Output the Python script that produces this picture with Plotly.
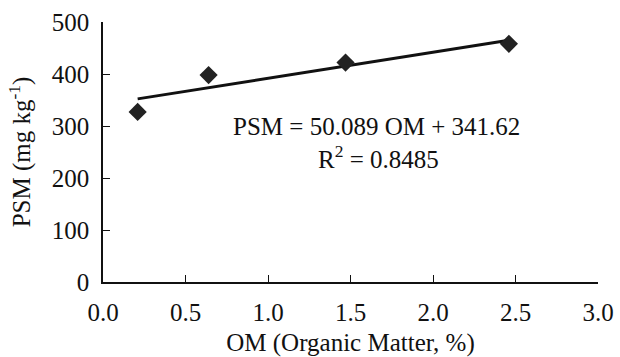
import plotly.graph_objects as go

om = [0.21, 0.64, 1.47, 2.46]
psm = [327, 398, 422, 458]
slope = 50.089
intercept = 341.62
r2 = 0.8485
x_ticks = [0.0, 0.5, 1.0, 1.5, 2.0, 2.5, 3.0]
x_ticklabels = ["0.0", "0.5", "1.0", "1.5", "2.0", "2.5", "3.0"]
y_ticks = [0, 100, 200, 300, 400, 500]

FONT = "Liberation Serif, serif"
FS = 25
INK = "#111111"

line_x = [min(om), max(om)]
line_y = [slope * v + intercept for v in line_x]

fig = go.Figure()
fig.add_trace(go.Scatter(x=line_x, y=line_y, mode="lines",
                         line=dict(color=INK, width=3), showlegend=False))
fig.add_trace(go.Scatter(x=om, y=psm, mode="markers",
                         marker=dict(symbol="diamond", size=14, color="#222222"),
                         showlegend=False))

fig.add_annotation(x=1.66, y=300, xref="x", yref="y",
                   text=f"PSM = {slope:.3f} OM + {intercept:.2f}",
                   showarrow=False, font=dict(family=FONT, size=FS, color=INK))
fig.add_annotation(x=1.67, y=241, xref="x", yref="y",
                   text=f"R<sup>2</sup> = {r2:.4f}",
                   showarrow=False, font=dict(family=FONT, size=FS, color=INK))

fig.update_layout(
    width=620, height=357,
    margin=dict(l=103, r=22, t=22, b=75, autoexpand=False),
    paper_bgcolor="white", plot_bgcolor="white",
    font=dict(family=FONT, size=FS, color=INK),
    xaxis=dict(range=[0, 3], tickvals=x_ticks, ticktext=x_ticklabels,
               showgrid=False, zeroline=False, showline=True, linecolor=INK,
               linewidth=1.5, ticks="inside", ticklen=7, tickcolor=INK,
               ticklabelstandoff=7, automargin=False,
               title=dict(text="OM (Organic Matter, %)", standoff=10,
                          font=dict(family=FONT, size=FS, color=INK)),
               tickfont=dict(family=FONT, size=FS, color=INK)),
    yaxis=dict(range=[0, 500], tickvals=y_ticks,
               showgrid=False, zeroline=False, showline=True, linecolor=INK,
               linewidth=1.5, ticks="inside", ticklen=7, tickcolor=INK,
               ticklabelstandoff=7, automargin=False,
               title=dict(text="PSM (mg kg<sup>-1</sup>)", standoff=14,
                          font=dict(family=FONT, size=FS, color=INK)),
               tickfont=dict(family=FONT, size=FS, color=INK)),
)

fig.write_html("out.html", config={"displayModeBar": False},
               post_script="document.body.style.margin='0';document.body.style.overflow='hidden';")
